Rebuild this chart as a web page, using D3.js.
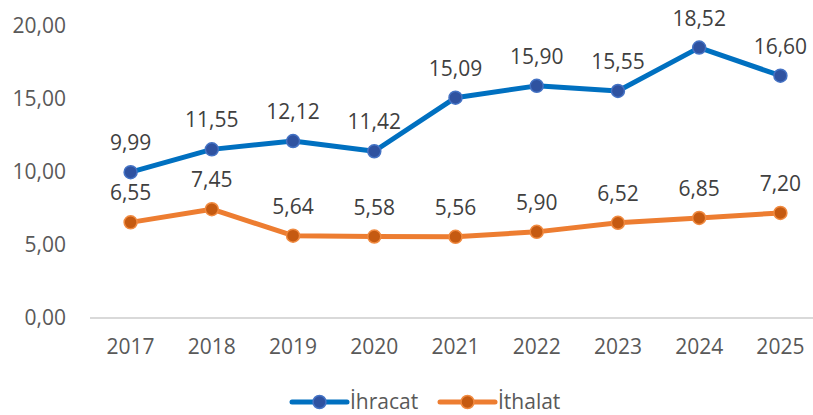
<!DOCTYPE html>
<html>
<head>
<meta charset="utf-8">
<script src="https://cdn.jsdelivr.net/npm/d3@7"></script>
<style>
  body { margin: 0; background: #fff; }
  text { font-family: "Open Sans", "Noto Sans", sans-serif; fill: #595959; }
</style>
</head>
<body>
<div id="chart"></div>
<script>
// data
let years = ["2017", "2018", "2019", "2020", "2021", "2022", "2023", "2024", "2025"]
let ihracat = [9.99, 11.55, 12.12, 11.42, 15.09, 15.90, 15.55, 18.52, 16.60]
let ithalat = [6.55, 7.45, 5.64, 5.58, 5.56, 5.90, 6.52, 6.85, 7.20]
let yTicks = [0, 5, 10, 15, 20]

let width = 813, height = 415
let margin = {top: 26, right: 0, bottom: 97, left: 90}

let svg = d3.select("#chart").append("svg")
    .attr("width", width)
    .attr("height", height)

let x = d3.scaleBand()
    .domain(years)
    .range([margin.left, 821])

let y = d3.scaleLinear()
    .domain([0, 20])
    .range([height - margin.bottom, margin.top])

let fmt = v => d3.format(".2f")(v).replace(".", ",")

// baseline
svg.append("line")
    .attr("x1", margin.left).attr("x2", 821)
    .attr("y1", y(0)).attr("y2", y(0))
    .attr("stroke", "#d9d9d9")
    .attr("stroke-width", 2)

// y axis labels
let yAxis = d3.axisLeft(y).tickValues(yTicks).tickFormat(fmt).tickSize(0).tickPadding(0)
let gy = svg.append("g")
    .attr("transform", "translate(66,0)")
    .call(yAxis)
gy.select(".domain").remove()
gy.selectAll("text")
    .attr("font-size", 21)
    .attr("fill", "#595959")
    .attr("font-family", null)

// x axis labels
let xAxis = d3.axisBottom(x).tickSize(0).tickPadding(0)
let gx = svg.append("g")
    .attr("transform", "translate(0," + (y(0) + 21) + ")")
    .call(xAxis)
gx.select(".domain").remove()
gx.selectAll("text")
    .attr("font-size", 21)
    .attr("fill", "#595959")
    .attr("font-family", null)

let series = [
    {name: "İhracat", values: ihracat, line: "#0070C0", fill: "#2F52A0", ring: "#4472C4"},
    {name: "İthalat", values: ithalat, line: "#ED7D31", fill: "#C55A11", ring: "#F08A40"}
]

let lineGen = d3.line()
    .x((d, i) => x(years[i]) + x.bandwidth() / 2)
    .y(d => y(d))

series.forEach(s => {
    svg.append("path")
        .datum(s.values)
        .attr("d", lineGen)
        .attr("fill", "none")
        .attr("stroke", s.line)
        .attr("stroke-width", 5)
        .attr("stroke-linejoin", "round")

    svg.selectAll(null).data(s.values).enter()
        .append("circle")
        .attr("cx", (d, i) => x(years[i]) + x.bandwidth() / 2)
        .attr("cy", d => y(d))
        .attr("r", 6.5)
        .attr("fill", s.fill)
        .attr("stroke", s.ring)
        .attr("stroke-width", 1.5)

    svg.selectAll(null).data(s.values).enter()
        .append("text")
        .attr("x", (d, i) => x(years[i]) + x.bandwidth() / 2)
        .attr("y", d => y(d) - 22)
        .attr("text-anchor", "middle")
        .attr("font-size", 21)
        .attr("fill", "#404040")
        .style("fill", "#404040")
        .text(d => fmt(d))
})

// legend
let legendX = [292, 440]
series.forEach((s, i) => {
    let g = svg.append("g").attr("transform", "translate(" + legendX[i] + ",402)")
    g.append("line")
        .attr("x1", 0).attr("x2", 55)
        .attr("stroke", s.line)
        .attr("stroke-width", 5)
        .attr("stroke-linecap", "round")
    g.append("circle")
        .attr("cx", 27.5)
        .attr("r", 6.5)
        .attr("fill", s.fill)
        .attr("stroke", s.ring)
        .attr("stroke-width", 1.5)
    g.append("text")
        .attr("x", 58)
        .attr("dy", "0.35em")
        .attr("font-size", 21)
        .text(s.name)
})
</script>
</body>
</html>
